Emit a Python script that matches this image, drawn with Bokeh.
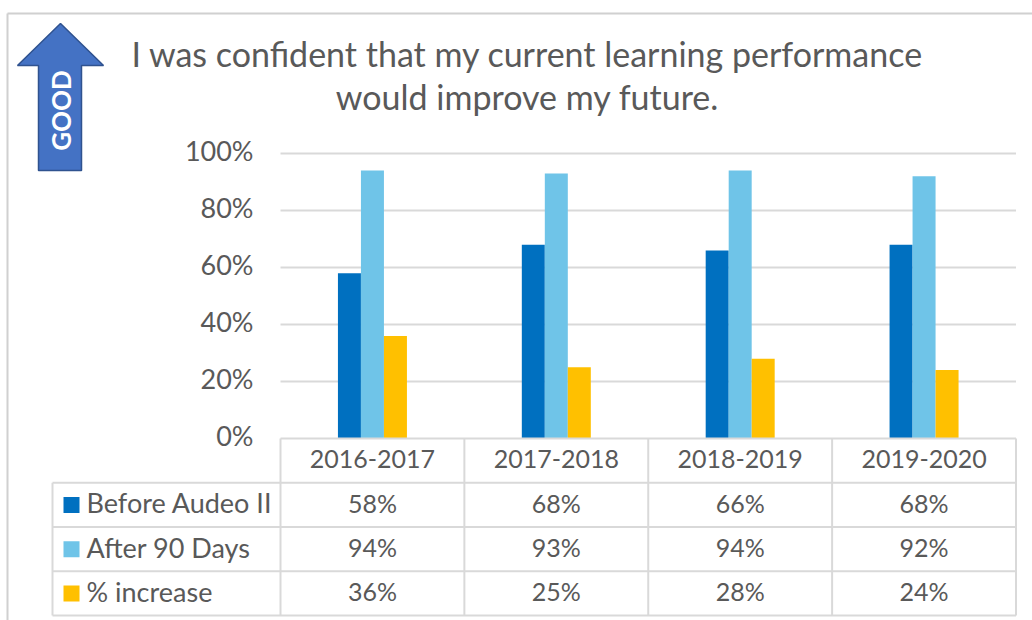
from bokeh.plotting import figure
from bokeh.models import Range1d, ColumnDataSource
from bokeh.transform import dodge
from bokeh.core.properties import value
from bokeh.embed import file_html
from bokeh.resources import INLINE
import math

# ---------------- data ----------------
years = ["2016-2017", "2017-2018", "2018-2019", "2019-2020"]
series_names = ["Before Audeo II", "After 90 Days", "% increase"]
before = [0.58, 0.68, 0.66, 0.68]
after = [0.94, 0.93, 0.94, 0.92]
increase = [0.36, 0.25, 0.28, 0.24]
y_ticks = [0.0, 0.2, 0.4, 0.6, 0.8, 1.0]
y_tick_labels = ["0%", "20%", "40%", "60%", "80%", "100%"]
title_lines = ["I was confident that my current learning performance",
               "would improve my future."]
arrow_label = "GOOD"

# ---------------- style ----------------
C_DARK = "#0070C0"
C_LIGHT = "#6FC4E8"
C_YELLOW = "#FFC000"
colors = [C_DARK, C_LIGHT, C_YELLOW]
TEXT = "#595959"
LINE = "#D9D9D9"
FONT = "Lato"

W, H = 1032, 620
PX_PER_X = 183.875      # pixels per category column
PX_PER_Y = 285.0        # pixels per 100%
X0 = -280 / PX_PER_X
X1 = X0 + W / PX_PER_X
Y1 = 438 / PX_PER_Y
Y0 = Y1 - H / PX_PER_Y


def px_x(px):
    return (px - 280) / PX_PER_X


def px_y(py):
    return (438 - py) / PX_PER_Y


p = figure(width=W, height=H, output_backend="svg", toolbar_location=None,
           x_range=Range1d(X0, X1), y_range=Range1d(Y0, Y1),
           x_axis_type=None, y_axis_type=None, min_border=0,
           background_fill_color="white", border_fill_color="white")
p.grid.visible = False
p.outline_line_color = None

n = len(years)
xc = [i + 0.5 for i in range(n)]

# outer border (left and top)
p.segment(x0=[px_x(7), px_x(7)], y0=[px_y(13), px_y(13)],
          x1=[px_x(7), X1 + 1], y1=[Y0 - 1, px_y(13)],
          line_color="#D0D0D0", line_width=2)

# gridlines
grid_y = [t for t in y_ticks if t > 0]
p.segment(x0=[0] * len(grid_y), y0=grid_y, x1=[n] * len(grid_y), y1=grid_y,
          line_color=LINE, line_width=2)

# tick labels
p.text(x=[px_x(253)] * len(y_ticks), y=y_ticks, text=y_tick_labels,
       text_font=value(FONT), text_font_size="27px", text_color=TEXT,
       text_align="right", text_baseline="middle", y_offset=-3)

# bars
src = ColumnDataSource(dict(x=xc, before=before, after=after, increase=increase))
bw = 23 / PX_PER_X
for k, (col, c) in enumerate(zip(["before", "after", "increase"], colors)):
    p.vbar(x=dodge("x", (k - 1) * bw, range=p.x_range), top=col, bottom=0,
           width=bw, source=src, fill_color=c, line_color=None)

# data table
rh = (0 - px_y(615)) / 4.0
left = px_x(52)
hy = [0.0] + [-(r + 1) * rh for r in range(4)]
hx0 = [0.0] + [left] * 4
p.segment(x0=hx0, y0=hy, x1=[n] * 5, y1=hy, line_color=LINE, line_width=2)
vx = list(range(n + 1))
p.segment(x0=vx, y0=[0] * len(vx), x1=vx, y1=[hy[-1]] * len(vx),
          line_color=LINE, line_width=2)
p.segment(x0=[left], y0=[hy[1]], x1=[left], y1=[hy[-1]],
          line_color=LINE, line_width=2)

# header
p.text(x=xc, y=[-0.5 * rh] * n, text=years, text_font=value(FONT),
       text_font_size="25px", text_color=TEXT, text_align="center",
       text_baseline="middle", y_offset=-2)

# rows
for r, (name, vals, c) in enumerate(zip(series_names, [before, after, increase], colors)):
    yc = -(r + 1.5) * rh
    p.scatter(x=[px_x(71)], y=[yc], marker="square", size=16,
              fill_color=c, line_color=None)
    p.text(x=[px_x(86)], y=[yc], text=[name], text_font=value(FONT),
           text_font_size="27px", text_color=TEXT, text_align="left",
           text_baseline="middle", y_offset=-2)
    p.text(x=xc, y=[yc] * n, text=[f"{round(v * 100)}%" for v in vals],
           text_font=value(FONT), text_font_size="25px", text_color=TEXT,
           text_align="center", text_baseline="middle", y_offset=-2)

# title
p.text(x=[px_x(527)] * 2, y=[px_y(53), px_y(96)], text=title_lines,
       text_font=value(FONT), text_font_size="34px", text_color=TEXT,
       text_align="center", text_baseline="alphabetic")

# GOOD arrow
ax = [60, 103, 81, 81, 38, 38, 17]
ay = [23, 65, 65, 170, 170, 65, 65]
p.patch(x=[px_x(v) for v in ax], y=[px_y(v) for v in ay],
        fill_color="#4472C4", line_color="#2F528F", line_width=1.5)
p.text(x=[px_x(60)], y=[px_y(110)], text=[arrow_label], angle=math.pi / 2,
       text_font=value(FONT), text_font_size="26px", text_font_style="bold",
       text_color="white", text_align="center", text_baseline="middle")

open("out.html", "w").write(file_html(p, INLINE))
